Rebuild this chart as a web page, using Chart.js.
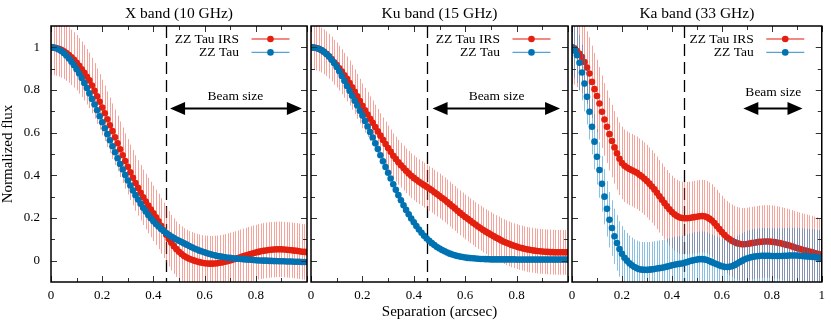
<!DOCTYPE html>
<html>
<head>
<meta charset="utf-8">
<script src="https://cdn.jsdelivr.net/npm/chart.js@4.4.1/dist/chart.umd.min.js"></script>
<style>
  html, body { margin: 0; padding: 0; background: #fff; }
  #wrap { position: relative; width: 831px; height: 321px; }
  #wrap canvas { position: absolute; left: 0; top: 0; }
</style>
</head>
<body>
<div id="wrap">
  <canvas id="pX" width="831" height="321"></canvas>
  <canvas id="pKu" width="831" height="321"></canvas>
  <canvas id="pKa" width="831" height="321"></canvas>
</div>
<script>
// separation (arcsec)
var sep = [0.00,0.01,0.02,0.03,0.04,0.05,0.06,0.07,0.08,0.09,
  0.10,0.11,0.12,0.13,0.14,0.15,0.16,0.17,0.18,0.19,
  0.20,0.21,0.22,0.23,0.24,0.25,0.26,0.27,0.28,0.29,
  0.30,0.31,0.32,0.33,0.34,0.35,0.36,0.37,0.38,0.39,
  0.40,0.41,0.42,0.43,0.44,0.45,0.46,0.47,0.48,0.49,
  0.50,0.51,0.52,0.53,0.54,0.55,0.56,0.57,0.58,0.59,
  0.60,0.61,0.62,0.63,0.64,0.65,0.66,0.67,0.68,0.69,
  0.70,0.71,0.72,0.73,0.74,0.75,0.76,0.77,0.78,0.79,
  0.80,0.81,0.82,0.83,0.84,0.85,0.86,0.87,0.88,0.89,
  0.90,0.91,0.92,0.93,0.94,0.95,0.96,0.97,0.98,0.99,1.00];

// X band (10 GHz)
var xIrs = [1.000,0.999,0.997,0.993,0.988,0.981,0.973,0.964,0.953,0.941,
  0.928,0.913,0.897,0.881,0.862,0.845,0.821,0.796,0.771,0.745,
  0.718,0.691,0.663,0.635,0.607,0.578,0.550,0.522,0.494,0.467,
  0.440,0.414,0.389,0.364,0.341,0.318,0.297,0.277,0.258,0.240,
  0.222,0.203,0.184,0.163,0.142,0.121,0.102,0.084,0.068,0.054,
  0.042,0.031,0.022,0.015,0.009,0.004,0.000,-0.004,-0.007,-0.010,
  -0.012,-0.013,-0.014,-0.014,-0.013,-0.012,-0.010,-0.008,-0.005,-0.002,
  0.001,0.005,0.008,0.012,0.016,0.020,0.024,0.028,0.031,0.035,
  0.038,0.041,0.044,0.046,0.048,0.050,0.051,0.052,0.053,0.053,
  0.053,0.052,0.051,0.050,0.049,0.047,0.046,0.044,0.042,0.041,0.040];
var xTau = [1.000,0.999,0.996,0.990,0.983,0.973,0.962,0.948,0.933,0.916,
  0.897,0.877,0.856,0.833,0.809,0.784,0.758,0.732,0.705,0.677,
  0.649,0.621,0.593,0.564,0.536,0.508,0.480,0.453,0.427,0.401,
  0.376,0.352,0.329,0.307,0.287,0.267,0.248,0.231,0.214,0.199,
  0.185,0.172,0.160,0.149,0.139,0.130,0.121,0.113,0.106,0.099,
  0.093,0.087,0.081,0.075,0.069,0.063,0.057,0.052,0.047,0.043,
  0.039,0.035,0.031,0.028,0.025,0.022,0.020,0.018,0.016,0.014,
  0.013,0.011,0.010,0.009,0.008,0.007,0.006,0.005,0.004,0.003,
  0.002,0.001,0.001,0.000,0.000,-0.001,-0.001,-0.002,-0.002,-0.003,
  -0.003,-0.003,-0.004,-0.004,-0.004,-0.005,-0.005,-0.005,-0.006,-0.006,-0.006];

// Ku band (15 GHz)
var kuIrs = [1.000,0.999,0.997,0.993,0.987,0.979,0.970,0.958,0.945,0.930,
  0.917,0.902,0.886,0.869,0.852,0.833,0.813,0.792,0.770,0.748,
  0.726,0.705,0.685,0.665,0.646,0.626,0.606,0.586,0.566,0.547,
  0.528,0.510,0.492,0.476,0.461,0.447,0.434,0.421,0.409,0.398,
  0.388,0.379,0.370,0.362,0.354,0.346,0.338,0.330,0.321,0.312,
  0.303,0.294,0.285,0.275,0.265,0.255,0.245,0.234,0.224,0.214,
  0.205,0.196,0.187,0.178,0.169,0.160,0.152,0.144,0.136,0.129,
  0.122,0.115,0.108,0.102,0.095,0.089,0.084,0.079,0.074,0.070,
  0.066,0.062,0.059,0.056,0.053,0.051,0.049,0.047,0.045,0.044,
  0.043,0.042,0.041,0.040,0.040,0.039,0.039,0.039,0.039,0.039,0.040];
var kuTau = [1.000,0.999,0.997,0.993,0.987,0.979,0.969,0.957,0.942,0.926,
  0.908,0.888,0.866,0.843,0.819,0.796,0.773,0.750,0.727,0.703,
  0.680,0.655,0.629,0.603,0.577,0.550,0.523,0.494,0.466,0.439,
  0.412,0.385,0.358,0.332,0.307,0.283,0.260,0.238,0.217,0.198,
  0.180,0.162,0.146,0.131,0.117,0.104,0.093,0.082,0.073,0.064,
  0.057,0.050,0.044,0.038,0.033,0.029,0.025,0.022,0.019,0.017,
  0.015,0.013,0.012,0.011,0.010,0.009,0.008,0.008,0.007,0.007,
  0.006,0.006,0.006,0.006,0.006,0.006,0.006,0.006,0.006,0.006,
  0.005,0.005,0.005,0.005,0.005,0.005,0.005,0.005,0.005,0.005,
  0.005,0.005,0.005,0.005,0.005,0.005,0.005,0.005,0.005,0.005,0.005];

// Ka band (33 GHz)
var kaIrs = [1.000,0.995,0.983,0.970,0.955,0.931,0.905,0.877,0.838,0.804,
  0.772,0.737,0.698,0.662,0.628,0.593,0.561,0.531,0.503,0.478,
  0.458,0.445,0.437,0.430,0.424,0.418,0.412,0.403,0.394,0.384,
  0.373,0.361,0.348,0.334,0.318,0.302,0.286,0.270,0.255,0.241,
  0.228,0.217,0.209,0.203,0.200,0.199,0.199,0.200,0.202,0.204,
  0.206,0.208,0.209,0.208,0.204,0.197,0.188,0.176,0.162,0.148,
  0.134,0.121,0.110,0.101,0.093,0.087,0.082,0.079,0.077,0.077,
  0.078,0.080,0.082,0.084,0.086,0.088,0.089,0.090,0.090,0.090,
  0.089,0.087,0.085,0.083,0.080,0.077,0.074,0.071,0.067,0.063,
  0.059,0.056,0.052,0.049,0.046,0.043,0.040,0.036,0.033,0.030,0.027];
var kaTau = [1.000,0.985,0.963,0.928,0.882,0.830,0.768,0.698,0.628,0.558,
  0.487,0.425,0.360,0.300,0.243,0.192,0.153,0.114,0.083,0.055,
  0.032,0.014,0.000,-0.012,-0.022,-0.030,-0.036,-0.040,-0.042,-0.043,
  -0.043,-0.042,-0.041,-0.039,-0.037,-0.035,-0.033,-0.031,-0.028,-0.025,
  -0.022,-0.019,-0.017,-0.015,-0.013,-0.010,-0.007,-0.003,0.000,0.003,
  0.005,0.007,0.007,0.006,0.003,-0.002,-0.007,-0.012,-0.017,-0.022,
  -0.026,-0.029,-0.030,-0.029,-0.026,-0.021,-0.015,-0.008,-0.001,0.005,
  0.010,0.014,0.017,0.019,0.021,0.022,0.023,0.023,0.023,0.023,
  0.022,0.022,0.022,0.022,0.022,0.023,0.023,0.024,0.024,0.024,
  0.024,0.023,0.022,0.021,0.020,0.019,0.018,0.017,0.015,0.014,0.012];

// error bar half-widths (normalized flux)
var xIrsErr = 0.13, xTauErr = 0.005;
var kuIrsErr = 0.105, kuTauErr = 0.012;
var kaIrsErr = 0.17, kaTauErr = 0.13;

// ticks
var xTicks = [0, 0.2, 0.4, 0.6, 0.8, 1];
var xTickLabels = ['0', '0.2', '0.4', '0.6', '0.8', '1'];
var yTicks = [0, 0.2, 0.4, 0.6, 0.8, 1];
var yTickLabels = ['0', '0.2', '0.4', '0.6', '0.8', '1'];
var minorTicks = [0.1, 0.3, 0.5, 0.7, 0.9];

var FONT = "'Liberation Serif', 'Times New Roman', serif";
var RED = '#e3200f', BLUE = '#0072b2';
var RED_BAR = 'rgba(236, 50, 35, 0.45)', BLUE_BAR = 'rgba(20, 130, 200, 0.5)';

var errorBars = {
  id: 'errorBars',
  beforeDatasetDraw: function (chart, args) {
    var ds = chart.data.datasets[args.index];
    if (!ds.err) return;
    var x = chart.scales.x, y = chart.scales.y, a = chart.chartArea, ctx = chart.ctx;
    ctx.save();
    ctx.beginPath();
    ctx.rect(a.left, a.top, a.right - a.left, a.bottom - a.top);
    ctx.clip();
    ctx.strokeStyle = ds.barColor;
    ctx.lineWidth = 1;
    ctx.beginPath();
    ds.data.forEach(function (p) {
      var px = Math.round(x.getPixelForValue(p.x)) + 0.5;
      ctx.moveTo(px, y.getPixelForValue(p.y - ds.err));
      ctx.lineTo(px, y.getPixelForValue(p.y + ds.err));
    });
    ctx.stroke();
    ctx.restore();
  }
};

function line(ctx, x0, y0, x1, y1) {
  ctx.beginPath(); ctx.moveTo(x0, y0); ctx.lineTo(x1, y1); ctx.stroke();
}

function arrowHead(ctx, xTip, y, dir) {
  ctx.beginPath();
  ctx.moveTo(xTip, y);
  ctx.lineTo(xTip - dir * 15, y - 6.5);
  ctx.lineTo(xTip - dir * 15, y + 6.5);
  ctx.closePath();
  ctx.fill();
}

var decorations = {
  id: 'deco',
  beforeDatasetsDraw: function (chart, args, o) {
    var ctx = chart.ctx, a = chart.chartArea, x = chart.scales.x;
    var px = Math.round(x.getPixelForValue(o.dashAt)) + 0.5;
    ctx.save();
    ctx.strokeStyle = '#000';
    ctx.lineWidth = 1.3;
    ctx.setLineDash([12, 6]);
    line(ctx, px, a.top, px, a.bottom);
    ctx.restore();
  },
  afterDraw: function (chart, args, o) {
    var ctx = chart.ctx, a = chart.chartArea, x = chart.scales.x, y = chart.scales.y;
    ctx.save();

    // inward ticks on all four sides
    ctx.strokeStyle = '#333';
    ctx.lineWidth = 1;
    xTicks.concat(minorTicks).forEach(function (v, i) {
      var len = i < xTicks.length ? 6 : 4;
      var px = Math.round(x.getPixelForValue(v)) + 0.5;
      line(ctx, px, a.bottom, px, a.bottom - len);
      line(ctx, px, a.top, px, a.top + len);
    });
    yTicks.concat(minorTicks).forEach(function (v, i) {
      var len = i < yTicks.length ? 6 : 4;
      var py = Math.round(y.getPixelForValue(v)) + 0.5;
      line(ctx, a.left, py, a.left + len, py);
      line(ctx, a.right, py, a.right - len, py);
    });

    // frame
    ctx.strokeStyle = '#000';
    ctx.lineWidth = 1.5;
    ctx.strokeRect(a.left, a.top, a.right - a.left, a.bottom - a.top);

    // title
    ctx.fillStyle = '#000';
    ctx.textAlign = 'center';
    ctx.textBaseline = 'middle';
    ctx.font = '15.5px ' + FONT;
    ctx.fillText(o.title, (a.left + a.right) / 2, 14);

    // axis titles
    ctx.font = '15px ' + FONT;
    if (o.xTitle) ctx.fillText(o.xTitle, (a.left + a.right) / 2, 312);
    if (o.yTitle) {
      ctx.save();
      ctx.translate(8, (a.top + a.bottom) / 2);
      ctx.rotate(-Math.PI / 2);
      ctx.fillText(o.yTitle, 0, 0);
      ctx.restore();
    }

    // key
    ctx.font = '13.5px ' + FONT;
    ctx.textAlign = 'right';
    chart.data.datasets.forEach(function (ds, i) {
      var ly = a.top + 13 + i * 13.4;
      ctx.fillStyle = '#000';
      ctx.fillText(ds.label, a.right - 68, ly);
      ctx.strokeStyle = ds.keyColor;
      ctx.lineWidth = 1.3;
      line(ctx, a.right - 55.5, ly, a.right - 17.5, ly);
      ctx.fillStyle = ds.backgroundColor;
      ctx.beginPath();
      ctx.arc(a.right - 36.5, ly, 3.3, 0, Math.PI * 2);
      ctx.fill();
    });

    // beam size arrow
    var b = o.beam;
    var bx0 = x.getPixelForValue(b.from), bx1 = x.getPixelForValue(b.to);
    var by = y.getPixelForValue(b.y);
    ctx.strokeStyle = '#000';
    ctx.fillStyle = '#000';
    ctx.lineWidth = 2;
    line(ctx, bx0 + 8, by, bx1 - 8, by);
    arrowHead(ctx, bx0, by, -1);
    arrowHead(ctx, bx1, by, 1);
    ctx.textAlign = 'center';
    ctx.fillText('Beam size', x.getPixelForValue(b.textX), y.getPixelForValue(b.textY));

    ctx.restore();
  }
};

// pad.left is the y axis width when the axis shows labels
function makePanel(id, irs, tau, irsErr, tauErr, deco, pad, showY, showLast) {
  var yWidth = showY ? pad.left : 0;
  return new Chart(document.getElementById(id), {
    type: 'scatter',
    data: {
      datasets: [{
        label: 'ZZ Tau IRS',
        data: sep.map(function (s, i) { return { x: s, y: irs[i] }; }),
        err: irsErr,
        barColor: RED_BAR,
        keyColor: 'rgba(236, 60, 45, 0.8)',
        backgroundColor: RED,
        borderWidth: 0,
        pointRadius: 3.3,
        order: 2
      }, {
        label: 'ZZ Tau',
        data: sep.map(function (s, i) { return { x: s, y: tau[i] }; }),
        err: tauErr,
        barColor: BLUE_BAR,
        keyColor: 'rgba(40, 140, 205, 0.8)',
        backgroundColor: BLUE,
        borderWidth: 0,
        pointRadius: 3.3,
        order: 1
      }]
    },
    options: {
      responsive: false,
      animation: false,
      events: [],
      layout: { padding: { left: pad.left - yWidth, right: pad.right, top: pad.top, bottom: 0 } },
      plugins: {
        legend: { display: false },
        tooltip: { enabled: false },
        deco: deco
      },
      scales: {
        x: {
          type: 'linear', min: 0, max: 1,
          grid: { display: false, drawTicks: false },
          border: { display: false },
          afterFit: function (s) { s.height = pad.bottom; },
          afterBuildTicks: function (s) { s.ticks = xTicks.map(function (v) { return { value: v }; }); },
          ticks: {
            padding: 6, color: '#000', maxRotation: 0, autoSkip: false,
            font: { family: FONT, size: 13 },
            callback: function (v, i) { return (i === xTicks.length - 1 && !showLast) ? '' : xTickLabels[i]; }
          }
        },
        y: {
          type: 'linear', min: -0.1, max: 1.1,
          grid: { display: false, drawTicks: false },
          border: { display: false },
          afterFit: function (s) { s.width = yWidth; },
          afterBuildTicks: function (s) { s.ticks = yTicks.map(function (v) { return { value: v }; }); },
          ticks: {
            display: showY, padding: 11, color: '#000', autoSkip: false,
            font: { family: FONT, size: 13 },
            callback: function (v, i) { return yTickLabels[i]; }
          }
        }
      }
    },
    plugins: [errorBars, decorations]
  });
}

makePanel('pX', xIrs, xTau, xIrsErr, xTauErr, {
  title: 'X band (10 GHz)', yTitle: 'Normalized flux', dashAt: 0.45,
  beam: { from: 0.465, to: 0.98, y: 0.713, textX: 0.72, textY: 0.771 }
}, { left: 51, right: 524, top: 26, bottom: 39 }, true, false);

makePanel('pKu', kuIrs, kuTau, kuIrsErr, kuTauErr, {
  title: 'Ku band (15 GHz)', xTitle: 'Separation (arcsec)', dashAt: 0.45,
  beam: { from: 0.473, to: 0.969, y: 0.713, textX: 0.722, textY: 0.771 }
}, { left: 311, right: 263, top: 26, bottom: 39 }, false, false);

makePanel('pKa', kaIrs, kaTau, kaIrsErr, kaTauErr, {
  title: 'Ka band (33 GHz)', dashAt: 0.45,
  beam: { from: 0.686, to: 0.923, y: 0.713, textX: 0.806, textY: 0.788 }
}, { left: 572, right: 3, top: 26, bottom: 39 }, false, true);
</script>
</body>
</html>
